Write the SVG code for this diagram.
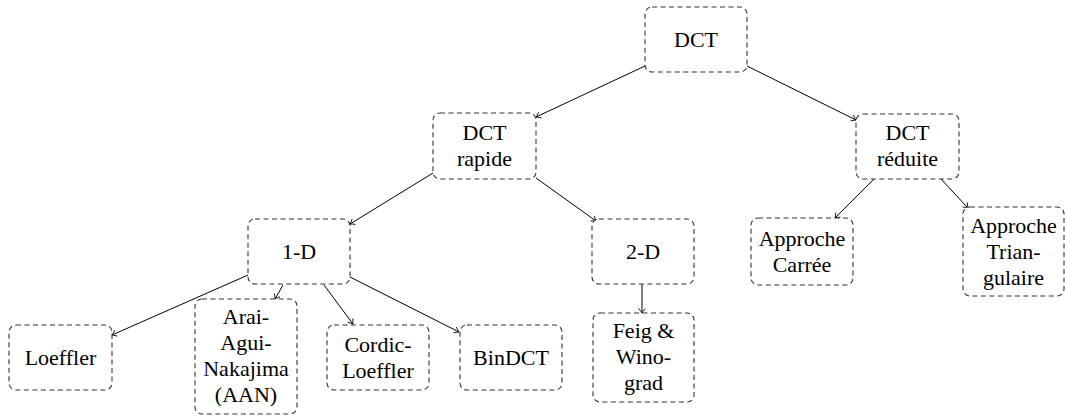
<svg xmlns="http://www.w3.org/2000/svg" width="1065" height="417" viewBox="0 0 1065 417">
<g id="connectors" stroke="#000" stroke-width="1" fill="none">
<line x1="645" y1="66" x2="536" y2="117"/>
<line x1="747" y1="66" x2="856" y2="120"/>
<line x1="433" y1="173" x2="350" y2="224"/>
<line x1="536" y1="178" x2="596" y2="221"/>
<line x1="248" y1="275" x2="112" y2="335"/>
<line x1="283" y1="285" x2="275" y2="299"/>
<line x1="324" y1="285" x2="353" y2="324"/>
<line x1="350" y1="277" x2="459" y2="332"/>
<line x1="642" y1="284" x2="642" y2="313"/>
<line x1="875" y1="178" x2="835" y2="218"/>
<line x1="940" y1="178" x2="968" y2="208"/>
<path stroke-width="0.9" d="M538.72,112.19 Q536.83,115.95 536,117 Q537.34,117.03 541.43,117.99"/>
<path stroke-width="0.9" d="M850.55,120.87 Q854.66,120.00 856,120 Q855.19,118.93 853.39,115.13"/>
<path stroke-width="0.9" d="M352.16,218.92 Q350.71,222.86 350,224 Q351.34,223.88 355.51,224.37"/>
<path stroke-width="0.9" d="M590.48,220.98 Q594.67,220.79 596,221 Q595.37,219.81 594.21,215.78"/>
<path stroke-width="0.9" d="M114.83,330.26 Q112.86,333.97 112,335 Q113.34,335.07 117.41,336.11"/>
<path stroke-width="0.9" d="M274.45,293.50 Q275.08,297.66 275,299 Q276.12,298.26 280.01,296.68"/>
<path stroke-width="0.9" d="M347.75,322.30 Q351.80,323.40 353,324 Q352.76,322.68 352.88,318.48"/>
<path stroke-width="0.9" d="M453.54,332.83 Q457.66,332.00 459,332 Q458.20,330.92 456.42,327.12"/>
<path stroke-width="0.9" d="M638.8,308.5 Q641.4,311.8 642,313 Q642.6,311.8 645.2,308.5"/>
<path stroke-width="0.9" d="M835.92,212.56 Q835.43,216.73 835,218 Q836.27,217.58 840.44,217.08"/>
<path stroke-width="0.9" d="M962.59,206.89 Q966.74,207.53 968,208 Q967.62,206.71 967.27,202.53"/>
</g>
<g fill="#fff" stroke="#333" stroke-width="1.1" stroke-dasharray="5 3.5">
<rect id="b-dct" x="645" y="7" width="102" height="65" rx="7"/>
<rect id="b-rapide" x="433" y="113" width="103" height="66" rx="7"/>
<rect id="b-reduite" x="856" y="114" width="103" height="65" rx="7"/>
<rect id="b-1d" x="248" y="219" width="102" height="65" rx="7"/>
<rect id="b-2d" x="592" y="219" width="102" height="65" rx="7"/>
<rect id="b-loeffler" x="9" y="325" width="103" height="65" rx="7"/>
<rect id="b-aan" x="195" y="299" width="102" height="115" rx="7"/>
<rect id="b-cordic" x="327" y="325" width="102" height="65" rx="7"/>
<rect id="b-bindct" x="460" y="325" width="102" height="65" rx="7"/>
<rect id="b-feig" x="593" y="313" width="101" height="89" rx="7"/>
<rect id="b-carree" x="751" y="218" width="102" height="67" rx="7"/>
<rect id="b-triang" x="963" y="207" width="101" height="89" rx="7"/>
</g>
<g id="n-dct"><text x="696" y="47" font-family="Liberation Serif" font-size="22" text-anchor="middle">DCT</text></g>
<g id="n-rapide"><text x="484.5" y="140" font-family="Liberation Serif" font-size="22" text-anchor="middle">DCT</text><text x="484.5" y="166" font-family="Liberation Serif" font-size="22" text-anchor="middle">rapide</text></g>
<g id="n-reduite"><text x="907.5" y="140" font-family="Liberation Serif" font-size="22" text-anchor="middle">DCT</text><text x="907.5" y="166" font-family="Liberation Serif" font-size="22" text-anchor="middle">réduite</text></g>
<g id="n-1d"><text x="299" y="259" font-family="Liberation Serif" font-size="22" text-anchor="middle">1-D</text></g>
<g id="n-2d"><text x="643" y="259" font-family="Liberation Serif" font-size="22" text-anchor="middle">2-D</text></g>
<g id="n-loeffler"><text x="60.5" y="365" font-family="Liberation Serif" font-size="22" text-anchor="middle">Loeffler</text></g>
<g id="n-aan"><text x="246" y="324" font-family="Liberation Serif" font-size="22" text-anchor="middle">Arai-</text><text x="246" y="350" font-family="Liberation Serif" font-size="22" text-anchor="middle">Agui-</text><text x="246" y="376" font-family="Liberation Serif" font-size="22" text-anchor="middle">Nakajima</text><text x="246" y="402" font-family="Liberation Serif" font-size="22" text-anchor="middle">(AAN)</text></g>
<g id="n-cordic"><text x="378" y="352" font-family="Liberation Serif" font-size="22" text-anchor="middle">Cordic-</text><text x="378" y="378" font-family="Liberation Serif" font-size="22" text-anchor="middle">Loeffler</text></g>
<g id="n-bindct"><text x="511" y="365" font-family="Liberation Serif" font-size="22" text-anchor="middle">BinDCT</text></g>
<g id="n-feig"><text x="643.5" y="338" font-family="Liberation Serif" font-size="22" text-anchor="middle">Feig &amp;</text><text x="643.5" y="364" font-family="Liberation Serif" font-size="22" text-anchor="middle">Wino-</text><text x="643.5" y="390" font-family="Liberation Serif" font-size="22" text-anchor="middle">grad</text></g>
<g id="n-carree"><text x="802" y="246" font-family="Liberation Serif" font-size="22" text-anchor="middle">Approche</text><text x="802" y="272" font-family="Liberation Serif" font-size="22" text-anchor="middle">Carrée</text></g>
<g id="n-triang"><text x="1013.5" y="233" font-family="Liberation Serif" font-size="22" text-anchor="middle">Approche</text><text x="1013.5" y="259" font-family="Liberation Serif" font-size="22" text-anchor="middle">Trian-</text><text x="1013.5" y="285" font-family="Liberation Serif" font-size="22" text-anchor="middle">gulaire</text></g>
</svg>
